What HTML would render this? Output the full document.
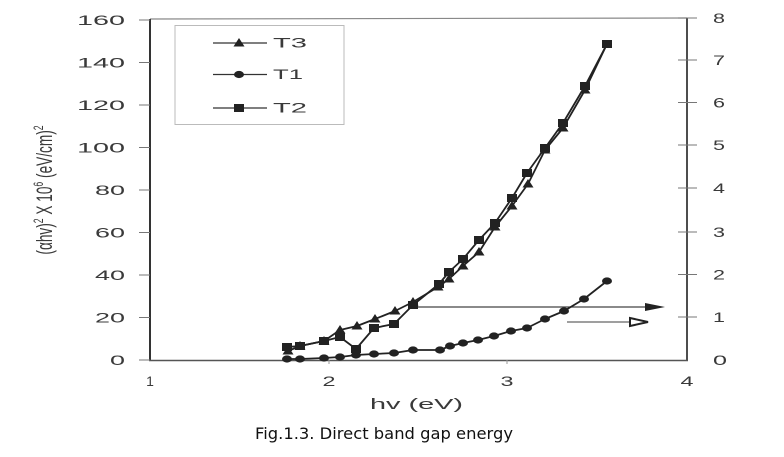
<!DOCTYPE html>
<html>
<head>
<meta charset="utf-8">
<style>
  html,body{margin:0;padding:0;background:#fff;}
  body{width:784px;height:457px;overflow:hidden;}
  svg{display:block;}
  .tk{font-family:"Liberation Sans",sans-serif;font-size:14px;fill:#3a3a3a;}
</style>
</head>
<body>
<svg width="784" height="457" viewBox="0 0 784 457" xmlns="http://www.w3.org/2000/svg">
  <defs>
    <rect id="sq" x="-5" y="-4" width="10" height="8" fill="#222"/>
    <polygon id="tr" points="0,-5 5.5,3.5 -5.5,3.5" fill="#222"/>
    <ellipse id="ci" cx="0" cy="0" rx="5" ry="3.6" fill="#222"/>
  </defs>

  <!-- frame -->
  <line x1="150" y1="19" x2="687" y2="18" stroke="#888" stroke-width="1.2"/>
  <line x1="150" y1="19" x2="150" y2="361" stroke="#333" stroke-width="2"/>
  <line x1="687" y1="18" x2="687" y2="361" stroke="#222" stroke-width="1.6"/>
  <line x1="149" y1="360.5" x2="688" y2="360.5" stroke="#555" stroke-width="1.6"/>

  <!-- left ticks -->
  <g stroke="#777" stroke-width="1">
    <line x1="139" y1="20" x2="150" y2="20"/>
    <line x1="139" y1="62.5" x2="150" y2="62.5"/>
    <line x1="139" y1="105" x2="150" y2="105"/>
    <line x1="139" y1="147.5" x2="150" y2="147.5"/>
    <line x1="139" y1="190" x2="150" y2="190"/>
    <line x1="139" y1="232.5" x2="150" y2="232.5"/>
    <line x1="139" y1="275" x2="150" y2="275"/>
    <line x1="139" y1="317.5" x2="150" y2="317.5"/>
    <line x1="139" y1="360" x2="150" y2="360"/>
  </g>
  <!-- right ticks -->
  <g stroke="#777" stroke-width="1">
    <line x1="678" y1="18" x2="697" y2="18"/>
    <line x1="678" y1="60" x2="697" y2="60"/>
    <line x1="678" y1="102.5" x2="697" y2="102.5"/>
    <line x1="678" y1="145" x2="697" y2="145"/>
    <line x1="678" y1="188" x2="697" y2="188"/>
    <line x1="678" y1="232" x2="697" y2="232"/>
    <line x1="678" y1="274.5" x2="697" y2="274.5"/>
    <line x1="678" y1="317" x2="697" y2="317"/>
  </g>
  <!-- x ticks -->
  <g stroke="#999" stroke-width="1">
    <line x1="329" y1="360" x2="329" y2="364"/>
    <line x1="507" y1="360" x2="507" y2="364"/>
  </g>

  <!-- left tick labels -->
  <g class="tk" text-anchor="end">
    <text x="125" y="25" textLength="48" lengthAdjust="spacingAndGlyphs">160</text>
    <text x="125" y="67.5" textLength="48" lengthAdjust="spacingAndGlyphs">140</text>
    <text x="125" y="110" textLength="48" lengthAdjust="spacingAndGlyphs">120</text>
    <text x="125" y="152.5" textLength="48" lengthAdjust="spacingAndGlyphs">100</text>
    <text x="125" y="195" textLength="30" lengthAdjust="spacingAndGlyphs">80</text>
    <text x="125" y="237.5" textLength="30" lengthAdjust="spacingAndGlyphs">60</text>
    <text x="125" y="280" textLength="30" lengthAdjust="spacingAndGlyphs">40</text>
    <text x="125" y="322.5" textLength="30" lengthAdjust="spacingAndGlyphs">20</text>
    <text x="125" y="365" textLength="15" lengthAdjust="spacingAndGlyphs">0</text>
  </g>
  <!-- right tick labels -->
  <g class="tk">
    <text x="713" y="23" textLength="12" lengthAdjust="spacingAndGlyphs">8</text>
    <text x="713" y="65" textLength="12" lengthAdjust="spacingAndGlyphs">7</text>
    <text x="713" y="107.5" textLength="12" lengthAdjust="spacingAndGlyphs">6</text>
    <text x="713" y="150" textLength="12" lengthAdjust="spacingAndGlyphs">5</text>
    <text x="713" y="193" textLength="12" lengthAdjust="spacingAndGlyphs">4</text>
    <text x="713" y="237" textLength="12" lengthAdjust="spacingAndGlyphs">3</text>
    <text x="713" y="279.5" textLength="12" lengthAdjust="spacingAndGlyphs">2</text>
    <text x="713" y="322" textLength="12" lengthAdjust="spacingAndGlyphs">1</text>
    <text x="713" y="365" textLength="14" lengthAdjust="spacingAndGlyphs">0</text>
  </g>
  <!-- x tick labels -->
  <g class="tk" text-anchor="middle">
    <text x="150" y="386">1</text>
    <text x="329" y="386" textLength="13" lengthAdjust="spacingAndGlyphs">2</text>
    <text x="507" y="386" textLength="13" lengthAdjust="spacingAndGlyphs">3</text>
    <text x="687" y="386" textLength="13" lengthAdjust="spacingAndGlyphs">4</text>
  </g>

  <!-- x axis title -->
  <text x="370" y="409" class="tk" style="font-size:15px" textLength="93" lengthAdjust="spacingAndGlyphs">hv (eV)</text>

  <!-- y axis title -->
  <g transform="translate(52,190) rotate(-90) scale(0.62,1)">
    <text x="0" y="0" text-anchor="middle" style="font-family:'Liberation Sans',sans-serif;font-size:22px;fill:#3a3a3a;">(αhv)<tspan dy="-9" font-size="14">2</tspan><tspan dy="9"> X 10</tspan><tspan dy="-9" font-size="14">6</tspan><tspan dy="9"> (eV/cm)</tspan><tspan dy="-9" font-size="14">2</tspan></text>
  </g>

  <!-- legend -->
  <rect x="175" y="25.5" width="169" height="99" fill="none" stroke="#bbb" stroke-width="1"/>
  <g stroke="#333" stroke-width="1.2">
    <line x1="213" y1="43" x2="267" y2="43"/>
    <line x1="213" y1="74.5" x2="267" y2="74.5"/>
    <line x1="213" y1="108" x2="267" y2="108"/>
  </g>
  <use href="#tr" x="239" y="43"/>
  <use href="#ci" x="239" y="74.5"/>
  <use href="#sq" x="239" y="108"/>
  <g class="tk">
    <text x="273" y="47.5" textLength="34" lengthAdjust="spacingAndGlyphs">T3</text>
    <text x="273" y="79" textLength="30" lengthAdjust="spacingAndGlyphs">T1</text>
    <text x="273" y="112.5" textLength="34" lengthAdjust="spacingAndGlyphs">T2</text>
  </g>

  <!-- arrows -->
  <line x1="418" y1="307" x2="648" y2="307" stroke="#444" stroke-width="1.3"/>
  <polygon points="645,303 665,307 645,311" fill="#222"/>
  <line x1="567" y1="322" x2="632" y2="322" stroke="#666" stroke-width="1.3"/>
  <polygon points="630,318 648,322 630,326" fill="#fff" stroke="#222" stroke-width="2"/>

  <!-- series lines -->
  <g fill="none" stroke="#222" stroke-width="1.8" stroke-linejoin="round">
    <polyline points="288,351 300,346 324,341 340,330 357,326 375,319 395,311 413,302 438,287 449,279 463,266 479,252 495,227 512,206 528,184 545,150 563,128 585,90 607,44"/>
    <polyline points="287,359 300,359 324,358 340,357 356,355 374,354 394,353 413,350 440,350 450,346 463,343 478,340 494,336 511,331 527,328 545,319 564,311 584,299 607,281"/>
    <polyline points="287,347 300,346 324,341 340,337 356,349 374,328 394,324 413,305 439,284 449,272 463,259 479,240 495,223 512,198 527,173 545,148 563,123 585,86 607,44"/>
  </g>

  <!-- T1 markers -->
  <g>
    <use href="#ci" x="287" y="359"/><use href="#ci" x="300" y="359"/><use href="#ci" x="324" y="358"/>
    <use href="#ci" x="340" y="357"/><use href="#ci" x="356" y="355"/><use href="#ci" x="374" y="354"/>
    <use href="#ci" x="394" y="353"/><use href="#ci" x="413" y="350"/><use href="#ci" x="440" y="350"/>
    <use href="#ci" x="450" y="346"/><use href="#ci" x="463" y="343"/><use href="#ci" x="478" y="340"/>
    <use href="#ci" x="494" y="336"/><use href="#ci" x="511" y="331"/><use href="#ci" x="527" y="328"/>
    <use href="#ci" x="545" y="319"/><use href="#ci" x="564" y="311"/><use href="#ci" x="584" y="299"/>
    <use href="#ci" x="607" y="281"/>
  </g>
  <!-- T3 markers -->
  <g>
    <use href="#tr" x="288" y="351"/><use href="#tr" x="300" y="346"/><use href="#tr" x="324" y="341"/>
    <use href="#tr" x="340" y="330"/><use href="#tr" x="357" y="326"/><use href="#tr" x="375" y="319"/>
    <use href="#tr" x="395" y="311"/><use href="#tr" x="413" y="302"/><use href="#tr" x="438" y="287"/>
    <use href="#tr" x="449" y="279"/><use href="#tr" x="463" y="266"/><use href="#tr" x="479" y="252"/>
    <use href="#tr" x="495" y="227"/><use href="#tr" x="512" y="206"/><use href="#tr" x="528" y="184"/>
    <use href="#tr" x="545" y="150"/><use href="#tr" x="563" y="128"/><use href="#tr" x="585" y="90"/>
  </g>
  <!-- T2 markers -->
  <g>
    <use href="#sq" x="287" y="347"/><use href="#sq" x="300" y="346"/><use href="#sq" x="324" y="341"/>
    <use href="#sq" x="340" y="337"/><use href="#sq" x="356" y="349"/><use href="#sq" x="374" y="328"/>
    <use href="#sq" x="394" y="324"/><use href="#sq" x="413" y="305"/><use href="#sq" x="439" y="284"/>
    <use href="#sq" x="449" y="272"/><use href="#sq" x="463" y="259"/><use href="#sq" x="479" y="240"/>
    <use href="#sq" x="495" y="223"/><use href="#sq" x="512" y="198"/><use href="#sq" x="527" y="173"/>
    <use href="#sq" x="545" y="148"/><use href="#sq" x="563" y="123"/><use href="#sq" x="585" y="86"/>
    <use href="#sq" x="607" y="44"/>
  </g>

  <!-- caption -->
  <text x="255" y="439" style="font-family:'DejaVu Sans','Liberation Sans',sans-serif;font-size:16px;fill:#111;" textLength="258" lengthAdjust="spacingAndGlyphs">Fig.1.3. Direct band gap energy</text>
</svg>
</body>
</html>
